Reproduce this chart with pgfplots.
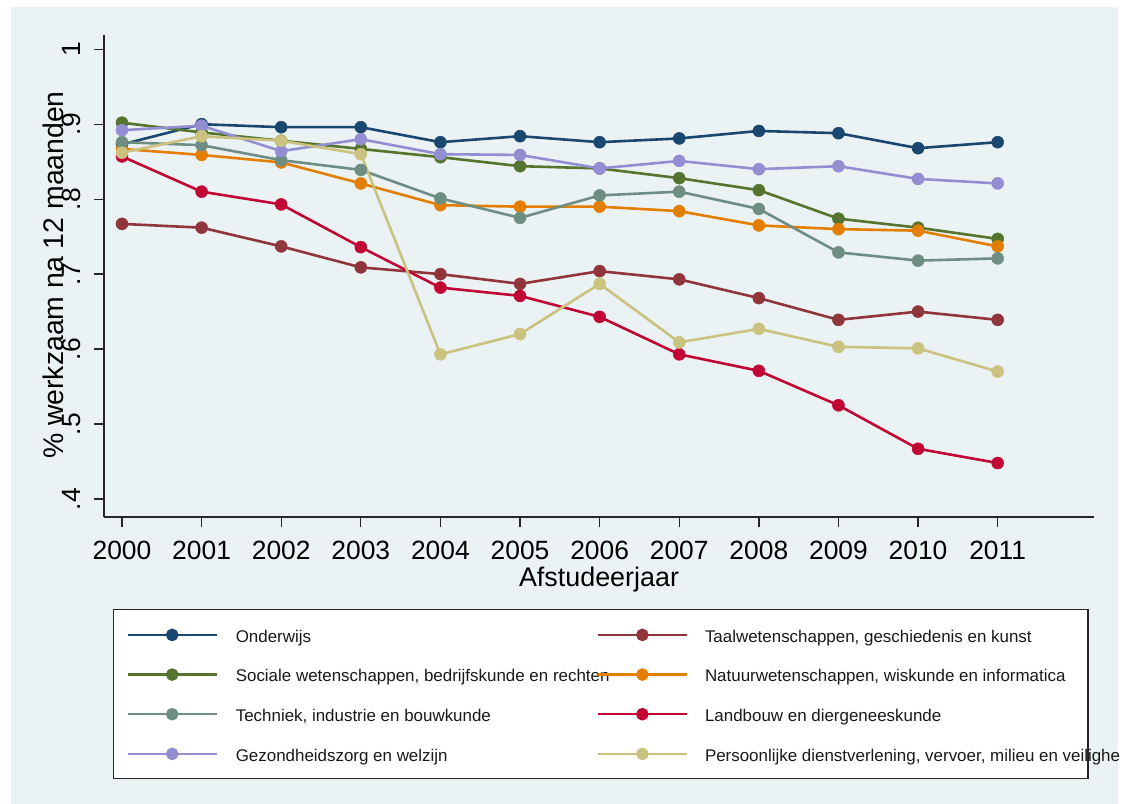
\documentclass[border=0pt]{standalone}
\usepackage{fontspec}
\setmainfont{Liberation Sans}
\usepackage{pgfplots}
\pgfplotsset{compat=1.18}
\definecolor{bg}{HTML}{EAF2F3}
\definecolor{cNavy}{HTML}{1A476F}
\definecolor{cMaroon}{HTML}{90353B}
\definecolor{cGreen}{HTML}{55752F}
\definecolor{cOrange}{HTML}{E37E00}
\definecolor{cTeal}{HTML}{6E8E84}
\definecolor{cCran}{HTML}{C10534}
\definecolor{cLav}{HTML}{938DD2}
\definecolor{cKhaki}{HTML}{CAC27E}
\begin{document}
\begin{tikzpicture}
\useasboundingbox (0bp,0bp) rectangle (1121bp,804bp);
\fill[white] (0bp,0bp) rectangle (1121bp,804bp);
\fill[bg] (11bp,0bp) rectangle (1118bp,797bp);
\begin{axis}[
  at={(104bp,287bp)}, anchor=south west,
  scale only axis, width=990bp, height=482bp,
  xmin=1999.774, xmax=2012.21, ymin=0.376, ymax=1.019,
  axis x line*=bottom, axis y line*=left,
  axis line style={line width=1.3bp, black!85, -},
  tick style={line width=1.3bp, black!85},
  tick align=outside, major tick length=10.5bp,
  xtick={2000,2001,2002,2003,2004,2005,2006,2007,2008,2009,2010,2011},
  xticklabels={2000,2001,2002,2003,2004,2005,2006,2007,2008,2009,2010,2011},
  ytick={0.4,0.5,0.6,0.7,0.8,0.9,1},
  yticklabels={.4,.5,.6,.7,.8,.9,1},
  xticklabel style={anchor=north, inner sep=0pt, yshift=-13bp, font=\fontsize{26.5}{30}\selectfont},
  yticklabel style={rotate=90, anchor=base, inner sep=0pt, yshift=13bp, font=\fontsize{26.5}{30}\selectfont},
  xlabel={Afstudeerjaar},
  xlabel style={at={(axis description cs:0.5,-0.1452)}, anchor=base, inner sep=0pt, font=\fontsize{27}{30}\selectfont},
  ylabel={\% werkzaam na 12 maanden},
  ylabel style={at={(axis description cs:-0.0414,0.502)}, anchor=base, inner sep=0pt, font=\fontsize{28.5}{32}\selectfont},
  every axis plot/.append style={line width=2.6bp, mark=*, mark size=6bp, mark options={solid, line width=0.5bp}, line join=round},
  legend columns=2,
  legend cell align=left,
  legend style={at={(axis description cs:0.00909,-0.19087)}, anchor=north west,
    draw=black!85, line width=1.2bp, fill=white, inner xsep=13bp, inner ysep=10.3bp,
    row sep=10.27bp, column sep=0pt,
    nodes={inner sep=0pt, text height=22.4bp, text depth=7bp, font=\fontsize{17}{20}\selectfont, text=black!90}},
  legend image code/.code={\draw[line width=2.2bp] (0bp,-0.3bp) -- (89bp,-0.3bp); \fill (44.5bp,-0.3bp) circle (5bp);},
]
\addplot[color=cNavy] coordinates {(2000,.873) (2001,.900) (2002,.896) (2003,.896) (2004,.876) (2005,.884) (2006,.876) (2007,.881) (2008,.891) (2009,.888) (2010,.868) (2011,.876)};
\addlegendentry{\makebox[379bp][l]{\hspace{18bp}Onderwijs}}
\addplot[color=cMaroon] coordinates {(2000,.767) (2001,.762) (2002,.737) (2003,.709) (2004,.700) (2005,.687) (2006,.704) (2007,.693) (2008,.668) (2009,.639) (2010,.650) (2011,.639)};
\addlegendentry{\makebox[387bp][l]{\hspace{17bp}Taalwetenschappen, geschiedenis en kunst}}
\addplot[color=cGreen] coordinates {(2000,.902) (2001,.889) (2002,.878) (2003,.867) (2004,.856) (2005,.844) (2006,.841) (2007,.828) (2008,.812) (2009,.774) (2010,.762) (2011,.747)};
\addlegendentry{\makebox[379bp][l]{\hspace{18bp}Sociale wetenschappen, bedrijfskunde en rechten}}
\addplot[color=cOrange] coordinates {(2000,.867) (2001,.859) (2002,.849) (2003,.821) (2004,.792) (2005,.790) (2006,.790) (2007,.784) (2008,.765) (2009,.760) (2010,.758) (2011,.737)};
\addlegendentry{\makebox[387bp][l]{\hspace{17bp}Natuurwetenschappen, wiskunde en informatica}}
\addplot[color=cTeal] coordinates {(2000,.876) (2001,.872) (2002,.852) (2003,.839) (2004,.801) (2005,.775) (2006,.805) (2007,.810) (2008,.787) (2009,.729) (2010,.718) (2011,.721)};
\addlegendentry{\makebox[379bp][l]{\hspace{18bp}Techniek, industrie en bouwkunde}}
\addplot[color=cCran] coordinates {(2000,.857) (2001,.810) (2002,.793) (2003,.736) (2004,.682) (2005,.671) (2006,.643) (2007,.593) (2008,.571) (2009,.525) (2010,.467) (2011,.448)};
\addlegendentry{\makebox[387bp][l]{\hspace{17bp}Landbouw en diergeneeskunde}}
\addplot[color=cLav] coordinates {(2000,.892) (2001,.898) (2002,.864) (2003,.880) (2004,.860) (2005,.859) (2006,.841) (2007,.851) (2008,.840) (2009,.844) (2010,.827) (2011,.821)};
\addlegendentry{\makebox[379bp][l]{\hspace{18bp}Gezondheidszorg en welzijn}}
\addplot[color=cKhaki] coordinates {(2000,.862) (2001,.884) (2002,.878) (2003,.860) (2004,.593) (2005,.620) (2006,.687) (2007,.609) (2008,.627) (2009,.603) (2010,.601) (2011,.570)};
\addlegendentry{\makebox[387bp][l]{\hspace{17bp}Persoonlijke dienstverlening, vervoer, milieu en veiligheid}}
\end{axis}
\end{tikzpicture}
\end{document}
